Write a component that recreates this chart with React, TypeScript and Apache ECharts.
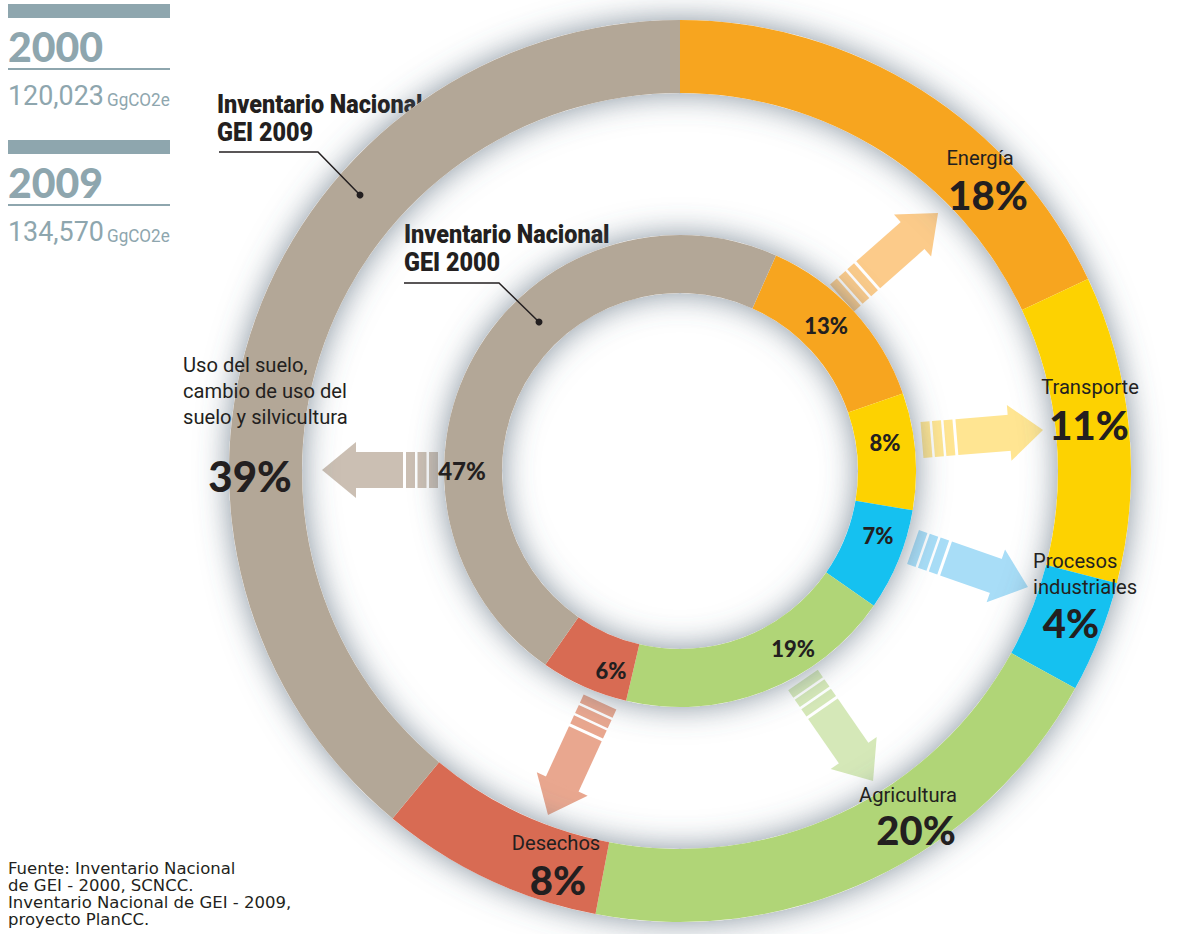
import React, { useEffect, useRef } from "react";
import * as echarts from "echarts";

// ---- data ----
const outerNames = ["Energía", "Transporte", "Procesos\nindustriales", "Agricultura", "Desechos", "Uso del suelo,\ncambio de uso del\nsuelo y silvicultura"];
const outerValues = [18, 11, 4, 20, 8, 39]; // Inventario Nacional GEI 2009 (%)
const innerNames = ["Energía", "Transporte", "Procesos industriales", "Agricultura", "Desechos", "Uso del suelo, cambio de uso del suelo y silvicultura"];
const innerValues = [13, 8, 7, 19, 6, 47]; // Inventario Nacional GEI 2000 (%)
const years = ["2000", "2009"];
const totals = ["120,023", "134,570"];
const unit = "GgCO2e";
const sourceLines = ["Fuente: Inventario Nacional", "de GEI - 2000, SCNCC.", "Inventario Nacional de GEI - 2009,", "proyecto PlanCC."];

// ---- styling ----
const colors = ["#f7a51f", "#fdd201", "#15c1f0", "#b0d577", "#d86b53", "#b3a797"];
const arrowColors = ["#fccb8a", "#ffe592", "#a8ddf7", "#d5e8b8", "#e9a78f", "#cbbfb3"];
const CX = 680, CY = 471;
const NARROW = "Roboto, sans-serif";
const BOLDNUM = "Lato, 'Noto Sans', sans-serif";
const GREY = "#8ea6ae";
const INK = "#231f20";

// label layout (positions only)
const outerLabelPos = [
  { nx: 980, ny: 158, px: 988, py: 195, align: "center" },
  { nx: 1090, ny: 387, px: 1089, py: 425, align: "center" },
  { nx: 1033, ny: 548, px: 1071, py: 623, align: "left" },
  { nx: 908, ny: 795, px: 916, py: 830, align: "center" },
  { nx: 556, ny: 843, px: 558, py: 880, align: "center" },
  { nx: 183, ny: 352, px: 250, py: 476, align: "left" },
];
const innerLabelPos = [
  [826, 325], [885, 442], [878, 535], [793, 648], [611, 670], [462, 470],
];
// arrows: tail (x,y) -> tip (x,y)
const arrowGeom = [
  [842, 298, 938, 213],
  [922, 440, 1043, 430],
  [913, 547, 1028, 587],
  [803, 680, 873, 781],
  [600, 702, 548, 815],
  [438, 470, 322, 470],
];

function arrow(i: number) {
  const [x0, y0, x1, y1] = arrowGeom[i];
  const dx = x1 - x0, dy = y1 - y0;
  const L = Math.hypot(dx, dy);
  const theta = Math.atan2(-dy, dx);
  const sw = 9, gap = 2.5, shaftW = 36, headW = 56, headLen = 34;
  const fill = arrowColors[i];
  const children: any[] = [];
  for (let k = 0; k < 3; k++) {
    children.push({ type: "rect", shape: { x: k * (sw + gap), y: -shaftW / 2, width: sw, height: shaftW }, style: { fill } });
  }
  const s0 = 3 * (sw + gap) + 0.5;
  children.push({ type: "rect", shape: { x: s0, y: -shaftW / 2, width: L - headLen - s0 + 1, height: shaftW }, style: { fill } });
  children.push({ type: "polygon", shape: { points: [[L - headLen, -headW / 2], [L, 0], [L - headLen, headW / 2]] }, style: { fill } });
  return { type: "group", x: x0, y: y0, rotation: theta, children, silent: true };
}

export default function App() {
  const ref = useRef<HTMLDivElement>(null);
  useEffect(() => {
    if (!ref.current) return;
    const chart = echarts.init(ref.current, undefined, { renderer: "svg" });

    const graphic: any[] = [];
    // header block
    years.forEach((yr, j) => {
      const oy = j * 136;
      graphic.push({ type: "rect", shape: { x: 8, y: 4 + oy, width: 162, height: 14 }, style: { fill: GREY } });
      graphic.push({ type: "text", x: 8, y: 46 + oy, style: { text: yr, fontFamily: BOLDNUM, fontWeight: 900, fontSize: 41, fill: GREY, verticalAlign: "middle" } });
      graphic.push({ type: "rect", shape: { x: 8, y: 68 + oy, width: 162, height: 2 }, style: { fill: GREY } });
      graphic.push({ type: "text", x: 8, y: 96 + oy, scaleX: 0.96, style: { text: totals[j], fontFamily: NARROW, fontSize: 28, fill: GREY, verticalAlign: "middle" } });
      graphic.push({ type: "text", x: 107, y: 99 + oy, scaleX: 0.9, style: { text: unit, fontFamily: NARROW, fontSize: 19, fill: GREY, verticalAlign: "middle", align: "left" } });
    });
    // source
    sourceLines.forEach((ln, k) => {
      graphic.push({ type: "text", x: 8, y: 868 + k * 17, style: { text: ln, fontFamily: "'DejaVu Sans', sans-serif", fontSize: 16.5, lineHeight: 17, fill: INK, verticalAlign: "middle" } });
    });
    // arrows
    for (let i = 0; i < arrowGeom.length; i++) graphic.push(arrow(i));
    // annotations
    graphic.push({ type: "text", x: 217, y: 90, scaleX: 0.9, style: { text: "Inventario Nacional\nGEI 2009", fontFamily: NARROW, fontWeight: 900, fontSize: 26, lineHeight: 28, fill: INK, verticalAlign: "top" } });
    graphic.push({ type: "polyline", shape: { points: [[219, 152], [318, 152], [360, 195]] }, style: { stroke: INK, lineWidth: 1.5, fill: null }, z: 10 });
    graphic.push({ type: "circle", shape: { cx: 360, cy: 195, r: 3.5 }, style: { fill: INK }, z: 10 });
    graphic.push({ type: "text", x: 404, y: 220, scaleX: 0.9, style: { text: "Inventario Nacional\nGEI 2000", fontFamily: NARROW, fontWeight: 900, fontSize: 26, lineHeight: 28, fill: INK, verticalAlign: "top" } });
    graphic.push({ type: "polyline", shape: { points: [[404, 283], [499, 283], [539, 322]] }, style: { stroke: INK, lineWidth: 1.5, fill: null }, z: 10 });
    graphic.push({ type: "circle", shape: { cx: 539, cy: 322, r: 3.5 }, style: { fill: INK }, z: 10 });
    // outer labels
    outerNames.forEach((nm, i) => {
      const p = outerLabelPos[i];
      graphic.push({ type: "text", x: p.nx, y: p.ny, z: 10, scaleX: 0.96, style: { text: nm, fontFamily: NARROW, fontSize: 21, lineHeight: 26, fill: INK, align: p.align, verticalAlign: i === 5 || i === 2 ? "top" : "middle" } });
      graphic.push({ type: "text", x: p.px, y: p.py, z: 10, style: { text: outerValues[i] + "%", fontFamily: BOLDNUM, fontWeight: 900, fontSize: i === 5 ? 42 : 40, fill: INK, align: "center", verticalAlign: "middle" } });
    });
    // inner labels
    innerValues.forEach((v, i) => {
      const [x, y] = innerLabelPos[i];
      graphic.push({ type: "text", x, y, z: 10, style: { text: v + "%", fontFamily: BOLDNUM, fontWeight: 900, fontSize: i === 5 ? 24 : 22, fill: INK, align: "center", verticalAlign: "middle" } });
    });

    const shadowRing = (r: number[]) => ({
      type: "pie", silent: true, center: [CX, CY], radius: r, z: 1,
      label: { show: false }, labelLine: { show: false },
      itemStyle: { color: "#ffffff", shadowBlur: 32, shadowColor: "rgba(80,100,115,0.7)" },
      data: [{ value: 1, name: "" }],
    });

    chart.setOption({
      animation: false,
      backgroundColor: "#ffffff",
      series: [
        shadowRing([378, 451]),
        shadowRing([178, 236]),
        {
          type: "pie", name: "Inventario Nacional GEI 2009", center: [CX, CY], radius: [378, 451], startAngle: 90, clockwise: true, z: 2,
          label: { show: false }, labelLine: { show: false }, silent: true,
          itemStyle: { borderWidth: 0 },
          data: outerValues.map((v, i) => ({ value: v, name: outerNames[i].replace(/\n/g, " "), itemStyle: { color: colors[i] } })),
        },
        {
          type: "pie", name: "Inventario Nacional GEI 2000", center: [CX, CY], radius: [178, 236], startAngle: 66, clockwise: true, z: 2,
          label: { show: false }, labelLine: { show: false }, silent: true,
          itemStyle: { borderWidth: 0 },
          data: innerValues.map((v, i) => ({ value: v, name: innerNames[i], itemStyle: { color: colors[i] } })),
        },
      ],
      graphic: { elements: graphic },
    });
    return () => chart.dispose();
  }, []);
  return <div ref={ref} style={{ position: "absolute", left: 0, top: 0, width: 1177, height: 934 }} />;
}
